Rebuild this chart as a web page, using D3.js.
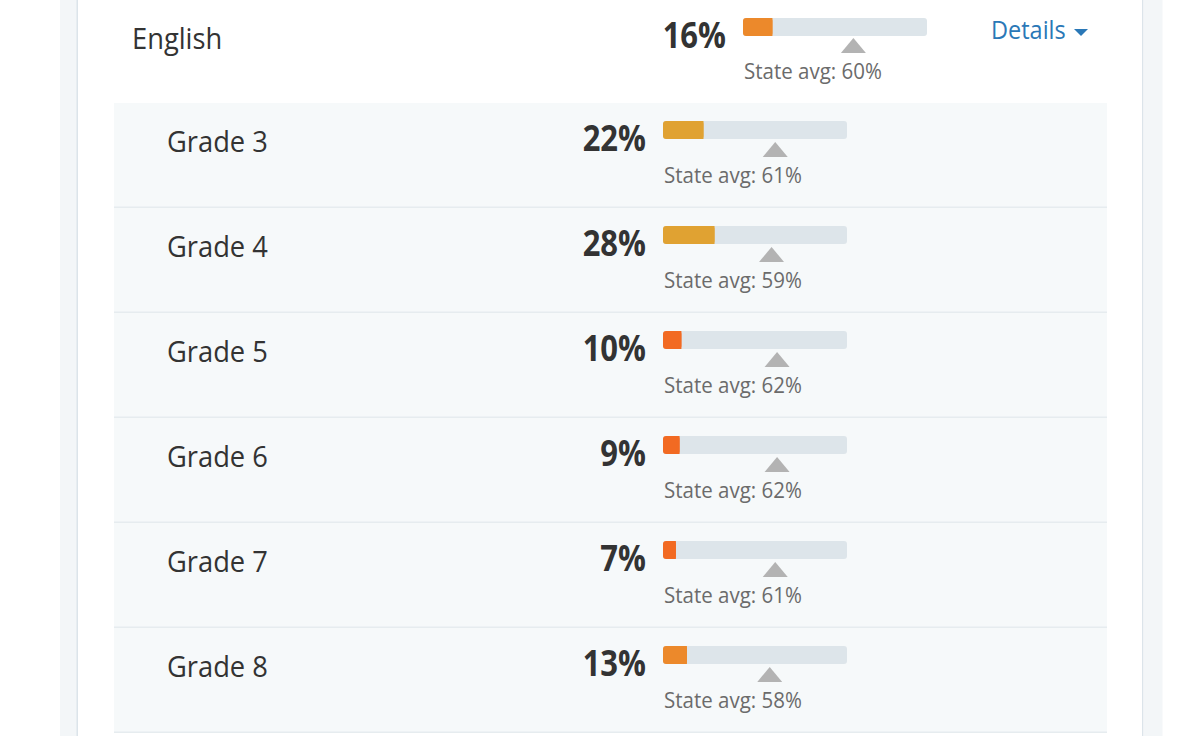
<!DOCTYPE html>
<html><head><meta charset="utf-8">
<script src="https://cdn.jsdelivr.net/npm/d3@7"></script>
<style>html,body{margin:0;padding:0;background:#fff;}svg{display:block;font-family:"Open Sans",sans-serif;}</style>
</head><body>
<svg id="c" width="1200" height="736"></svg>
<script>
const subject = "English";
const subjectValue = 16;
const subjectStateAvg = 60;
const grades = ["Grade 3","Grade 4","Grade 5","Grade 6","Grade 7","Grade 8"];
const gradeValues = [22, 28, 10, 9, 7, 13];
const gradeStateAvg = [61, 59, 62, 62, 61, 58];
const detailsLabel = "Details";

const svg = d3.select("#c");
const color = d3.scaleThreshold().domain([11, 20]).range(["#f26a22", "#ec892b", "#e0a232"]);

// page frame
svg.append("rect").attr("x",60).attr("y",0).attr("width",18).attr("height",736).attr("fill","#f3f6f8");
svg.append("rect").attr("x",76.5).attr("y",0).attr("width",1.5).attr("height",736).attr("fill","#dce4ea");
svg.append("rect").attr("x",1142).attr("y",0).attr("width",1.5).attr("height",736).attr("fill","#dce4ea");
svg.append("rect").attr("x",1143.5).attr("y",0).attr("width",19).attr("height",736).attr("fill","#f3f6f8");

const x = d3.scaleLinear().domain([0,100]).range([0,184]);
const y = d3.scaleBand().domain(grades).range([103, 103 + 105*grades.length]).paddingInner(0);

function txt(g, tx, ty, size, fill, str, opts={}){
  const t = g.append("text").attr("transform",`translate(${tx},${ty}) scale(1,${opts.sy||1.1})`)
    .attr("font-size",size).attr("fill",fill).text(str);
  if(opts.anchor) t.attr("text-anchor",opts.anchor);
  if(opts.bold) t.attr("font-weight","bold");
  return t;
}

function bar(g, bx, by, v, avg, triTop, avgBase){
  g.append("rect").attr("x",bx).attr("y",by).attr("width",x(100)).attr("height",18).attr("rx",3).attr("fill","#dde5ea");
  g.append("rect").attr("x",bx).attr("y",by).attr("width",x(v)).attr("height",18).attr("rx",3).attr("fill",color(v));
  g.append("rect").attr("x",bx+Math.max(0,x(v)-3)).attr("y",by).attr("width",Math.min(3,x(v))).attr("height",18).attr("fill",color(v));
  const cx = bx + x(avg);
  g.append("path").attr("d",`M${cx-12.5},${triTop+15}L${cx},${triTop}L${cx+12.5},${triTop+15}Z`).attr("fill","#b3b3b3");
  txt(g, bx+1, avgBase, 20.5, "#6b6b6b", `State avg: ${avg}%`);
}

// header row
const h = svg.append("g");
txt(h, 132, 49, 27.3, "#333", subject);
txt(h, 726, 48, 31, "#333", subjectValue+"%", {anchor:"end", bold:true, sy:1.15});
bar(h, 743, 18, subjectValue, subjectStateAvg, 38, 78.5);
txt(h, 991, 38.5, 23.5, "#2a78b7", detailsLabel);
h.append("path").attr("d","M1074,29L1088,29L1081,36Z").attr("fill","#2a78b7");

// grade rows
const rows = svg.selectAll("g.row").data(grades).join("g").attr("class","row")
  .attr("transform", d => `translate(0,${y(d)})`);
rows.append("rect").attr("x",114).attr("y",0).attr("width",993).attr("height",y.bandwidth()).attr("fill","#f6f9fa");
rows.append("rect").attr("x",114).attr("y",y.bandwidth()-1.5).attr("width",993).attr("height",1.5).attr("fill","#e6ecef");
rows.each(function(d,i){
  const g = d3.select(this);
  txt(g, 167, 49, 27.3, "#333", d);
  txt(g, 646, 48, 31, "#333", gradeValues[i]+"%", {anchor:"end", bold:true, sy:1.15});
  bar(g, 663, 18, gradeValues[i], gradeStateAvg[i], 39, 79.5);
});
</script>
</body></html>
